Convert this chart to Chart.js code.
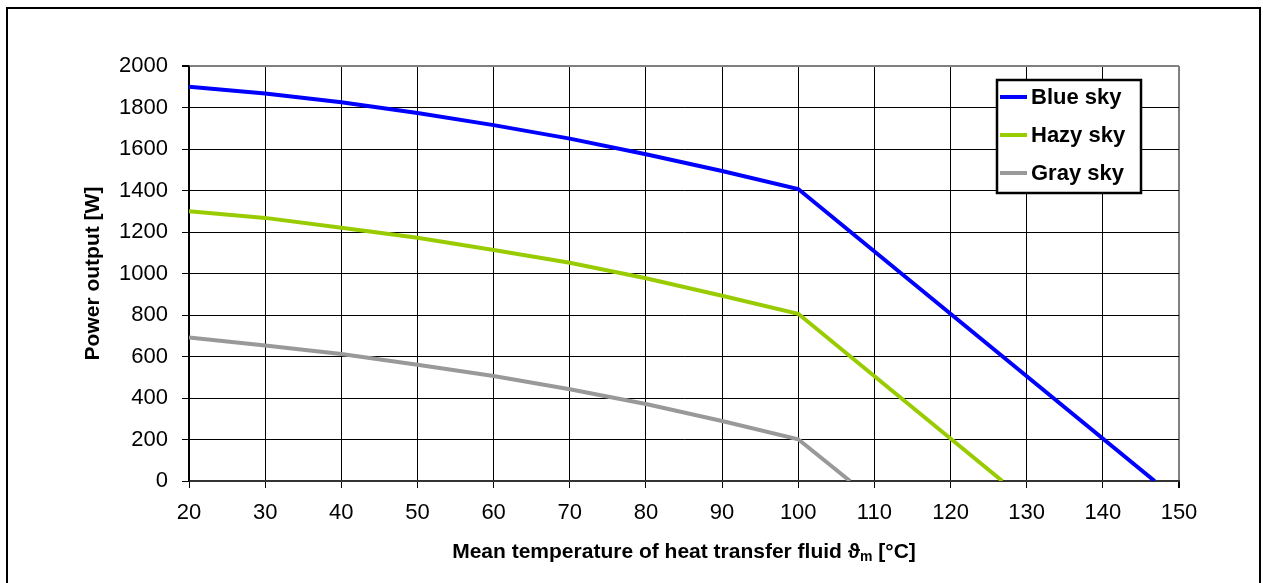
<!DOCTYPE html>
<html>
<head>
<meta charset="utf-8">
<title>Power output vs mean temperature</title>
<script src="https://cdn.jsdelivr.net/npm/chart.js@4/dist/chart.umd.min.js"></script>
<style>
  html, body { margin: 0; padding: 0; background: #fff; }
  #chart { display: block; }
</style>
</head>
<body>
<canvas id="chart" width="1263" height="583"></canvas>
<script>
// values
const temps = [20, 30, 40, 50, 60, 70, 80, 90, 100];
const blueSky = [1900, 1867, 1825, 1774, 1715, 1650, 1575, 1494, 1407];
const hazySky = [1300, 1268, 1221, 1172, 1113, 1052, 977, 893, 806];
const graySky = [692, 653, 612, 560, 506, 442, 371, 289, 201];
const zeroTemps = [146.8, 126.8, 106.8];   // temperature where each curve hits 0 W
const seriesNames = ['Blue sky', 'Hazy sky', 'Gray sky'];
const seriesColors = ['#0000ff', '#99cc00', '#999999'];
const xTickRange = [20, 150, 10];
const yTickRange = [0, 2000, 200];

const FONT = "'Liberation Sans', Arial, Helvetica, sans-serif";

function toPoints(values, zeroAt) {
  const pts = temps.map((t, i) => ({ x: t, y: values[i] }));
  pts.push({ x: zeroAt, y: 0 });
  return pts;
}

const datasets = [blueSky, hazySky, graySky].map((vals, i) => ({
  label: seriesNames[i],
  data: toPoints(vals, zeroTemps[i]),
  borderColor: seriesColors[i],
  backgroundColor: seriesColors[i],
  borderWidth: 4,
  pointRadius: 0,
  tension: 0,
  fill: false
}));

// frame, axis titles and the boxed legend inside the plot
const decorations = {
  id: 'decorations',
  beforeDraw(chart) {
    const ctx = chart.ctx;
    ctx.save();
    ctx.fillStyle = '#fff';
    ctx.fillRect(0, 0, chart.width, chart.height);
    ctx.restore();
  },
  afterDraw(chart) {
    const ctx = chart.ctx;
    const area = chart.chartArea;
    ctx.save();

    // outer frame
    ctx.strokeStyle = '#000';
    ctx.lineWidth = 2;
    ctx.strokeRect(7, 8, 1253, 600);

    // y title
    ctx.fillStyle = '#000';
    ctx.font = 'bold 21px ' + FONT;
    ctx.textAlign = 'center';
    ctx.textBaseline = 'middle';
    ctx.save();
    ctx.translate(93, (area.top + area.bottom) / 2);
    ctx.rotate(-Math.PI / 2);
    ctx.fillText('Power output [W]', 0, 0);
    ctx.restore();

    // x title with subscript m
    const main = 'Mean temperature of heat transfer fluid \u03d1';
    const sub = 'm';
    const tail = ' [\u00b0C]';
    ctx.textAlign = 'left';
    ctx.font = 'bold 21px ' + FONT;
    const wMain = ctx.measureText(main).width;
    const wTail = ctx.measureText(tail).width;
    ctx.font = 'bold 14px ' + FONT;
    const wSub = ctx.measureText(sub).width;
    let x = (area.left + area.right) / 2 - (wMain + wSub + wTail) / 2;
    const y = 552;
    ctx.font = 'bold 21px ' + FONT;
    ctx.fillText(main, x, y);
    x += wMain;
    ctx.font = 'bold 14px ' + FONT;
    ctx.fillText(sub, x, y + 5);
    x += wSub;
    ctx.font = 'bold 21px ' + FONT;
    ctx.fillText(tail, x, y);

    // legend box
    const box = { x: 997, y: 80, w: 144, h: 113 };
    ctx.fillStyle = '#fff';
    ctx.fillRect(box.x, box.y, box.w, box.h);
    ctx.strokeStyle = '#000';
    ctx.lineWidth = 2.5;
    ctx.strokeRect(box.x, box.y, box.w, box.h);
    ctx.font = 'bold 22px ' + FONT;
    ctx.textBaseline = 'middle';
    chart.data.datasets.forEach((ds, i) => {
      const ry = 97 + i * 38;
      ctx.strokeStyle = ds.borderColor;
      ctx.lineWidth = 4;
      ctx.beginPath();
      ctx.moveTo(box.x + 3, ry);
      ctx.lineTo(box.x + 30, ry);
      ctx.stroke();
      ctx.fillStyle = '#000';
      ctx.fillText(ds.label, box.x + 34, ry + 1);
    });
    ctx.restore();
  }
};

new Chart(document.getElementById('chart').getContext('2d'), {
  type: 'line',
  data: { datasets: datasets },
  plugins: [decorations],
  options: {
    responsive: false,
    devicePixelRatio: 1,
    animation: false,
    layout: { padding: { left: 0, top: 66, right: 84, bottom: 0 } },
    plugins: { legend: { display: false }, tooltip: { enabled: false } },
    scales: {
      x: {
        type: 'linear',
        min: xTickRange[0], max: xTickRange[1],
        ticks: { stepSize: xTickRange[2], color: '#000', padding: 12, maxRotation: 0,
                 font: { family: FONT, size: 22 }, callback: v => String(v) },
        grid: {
          color: c => c.tick && c.tick.value === xTickRange[1] ? '#808080' : '#000',
          lineWidth: c => c.tick && c.tick.value === xTickRange[1] ? 2 : 1,
          tickLength: 7, tickColor: '#000'
        },
        border: { color: '#333', width: 2 },
        afterFit(scale) { scale.height = 102; }
      },
      y: {
        min: yTickRange[0], max: yTickRange[1],
        ticks: { stepSize: yTickRange[2], color: '#000', padding: 14,
                 font: { family: FONT, size: 22 }, callback: v => String(v) },
        grid: {
          color: c => c.tick && c.tick.value === yTickRange[1] ? '#808080' : '#000',
          lineWidth: c => c.tick && c.tick.value === yTickRange[1] ? 2 : 1,
          tickLength: 7, tickColor: '#000'
        },
        border: { color: '#000', width: 1.5 },
        afterFit(scale) { scale.width = 189; }
      }
    }
  }
});
</script>
</body>
</html>
